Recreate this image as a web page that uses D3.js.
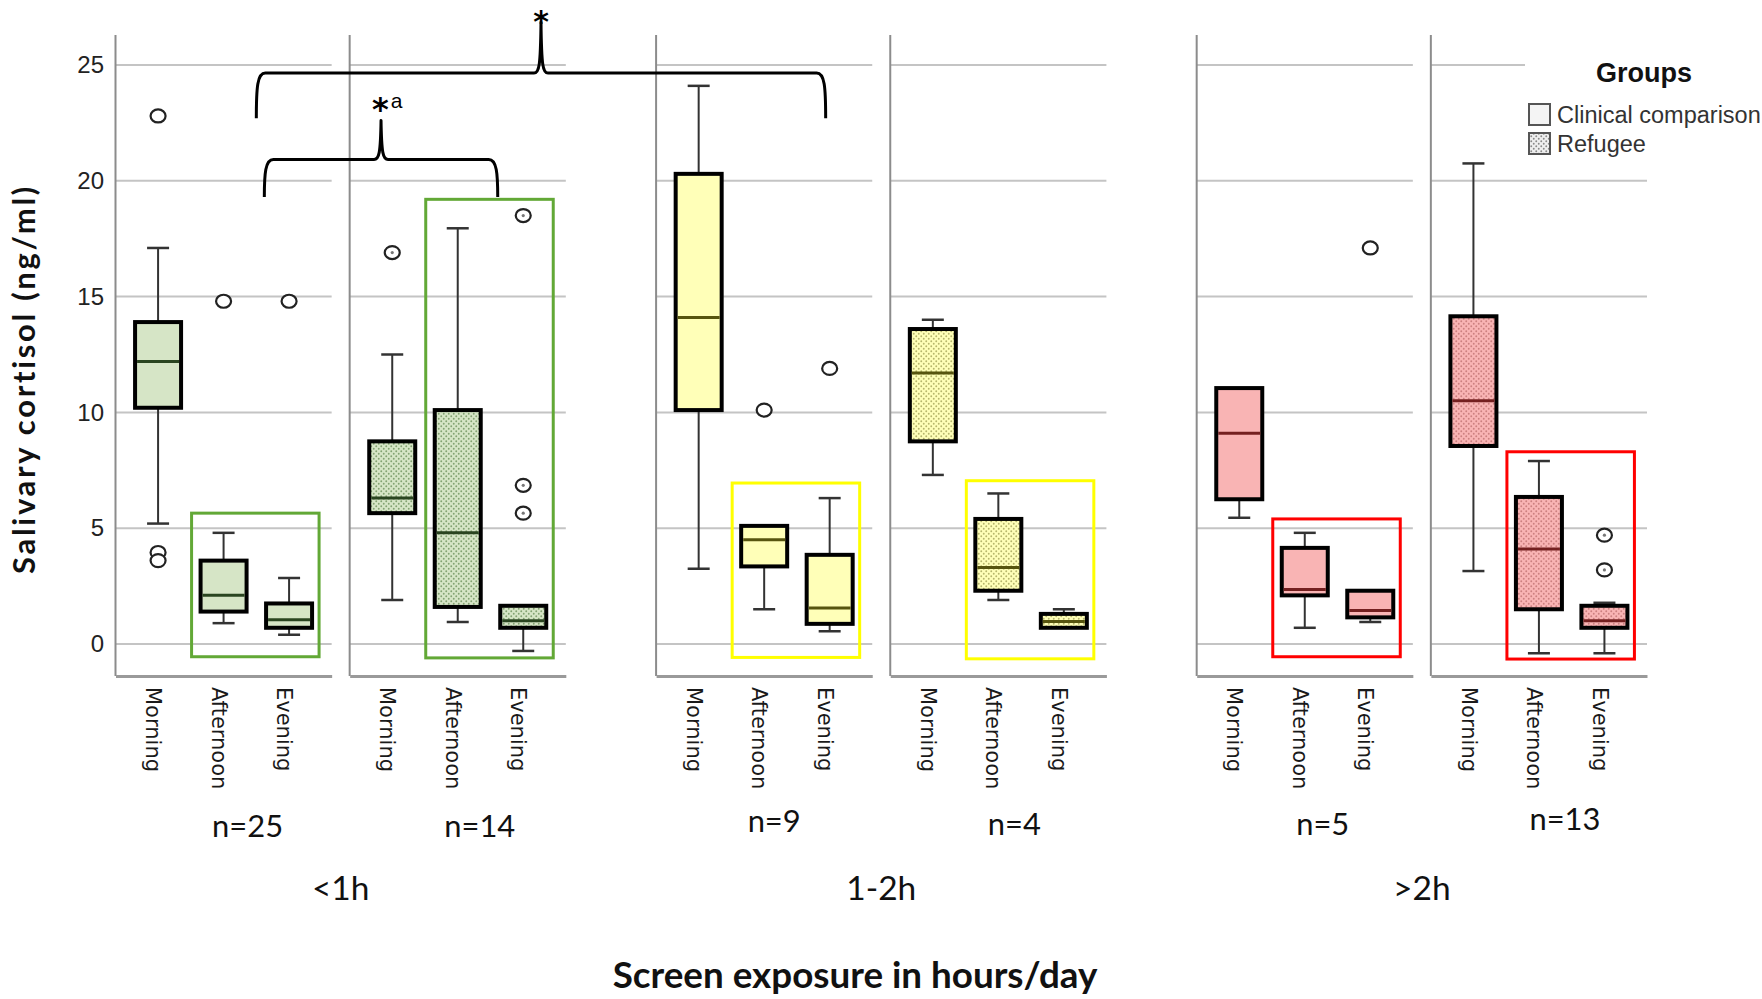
<!DOCTYPE html>
<html><head><meta charset="utf-8">
<script src="https://cdn.jsdelivr.net/npm/d3@7"></script>
<style>body{margin:0;background:#fff}</style></head>
<body><svg id="c" width="1762" height="999"></svg>
<script>
// ---------------- DATA ----------------
const exposures = ["<1h", "1-2h", ">2h"];
const groups = ["Clinical comparison", "Refugee"];
const times = ["Morning", "Afternoon", "Evening"];
const nLabels = ["n=25", "n=14", "n=9", "n=4", "n=5", "n=13"];
const yTicks = [0, 5, 10, 15, 20, 25];

// box stats per time of day: [lower whisker, Q1, median, Q3, upper whisker]
const boxLt1Clinical  = [[5.2, 10.2, 12.2, 13.9, 17.1], [0.9, 1.4, 2.1, 3.6, 4.8], [0.4, 0.7, 1.05, 1.75, 2.85]];
const boxLt1Refugee   = [[1.9, 5.65, 6.3, 8.75, 12.5], [0.95, 1.6, 4.8, 10.1, 17.95], [-0.3, 0.7, 1.0, 1.65, 1.65]];
const boxMidClinical  = [[3.25, 10.1, 14.1, 20.3, 24.1], [1.5, 3.35, 4.5, 5.1, 5.1], [0.55, 0.87, 1.55, 3.85, 6.3]];
const boxMidRefugee   = [[7.3, 8.75, 11.7, 13.6, 14.0], [1.9, 2.3, 3.3, 5.4, 6.5], [0.7, 0.7, 0.97, 1.3, 1.5]];
const boxGt2Clinical  = [[5.45, 6.25, 9.1, 11.05, 11.05], [0.7, 2.1, 2.35, 4.15, 4.8], [0.95, 1.15, 1.45, 2.3, 2.3]];
const boxGt2Refugee   = [[3.15, 8.55, 10.5, 14.15, 20.75], [-0.4, 1.5, 4.1, 6.35, 7.9], [-0.4, 0.7, 1.0, 1.65, 1.78]];

// outliers per time of day
const outLt1Clinical = [[22.8, 3.95, 3.6], [14.8], [14.8]];
const outLt1Refugee  = [[16.9], [], [18.5, 6.85, 5.65]];
const outMidClinical = [[], [10.1], [11.9]];
const outMidRefugee  = [[], [], []];
const outGt2Clinical = [[], [], [17.1]];
const outGt2Refugee  = [[], [], [4.7, 3.2]];

// highlight frames (Afternoon+Evening) per panel: top and bottom value
const frameTop = [5.65, 19.2, 6.95, 7.05, 5.4, 8.3];
const frameBottom = [-0.55, -0.6, -0.58, -0.64, -0.55, -0.65];

// significance brackets: [label, y of arms end, y of bar, y of tip]
const bracketLabels = ["*", "*a"];
const bracketLevels = [[22.7, 24.65, 26.85], [19.3, 20.92, 22.6]];

// ---------------- STYLE / LAYOUT ----------------
const fills   = ["#d6e5c6", "#ffffb8", "#f9b4b4"];
const dots    = ["#83a272", "#b6b66c", "#cc8080"];
const medians = ["#2a4520", "#57550f", "#742020"];
const frames  = ["#62a836", "#ffff00", "#ff0000"];
const nNudge  = [24, 22, 10, 16, 18, 26];
const nBase   = [837, 837, 832, 835, 835, 830];

const panels = [
  {e: 0, g: 0, box: boxLt1Clinical, out: outLt1Clinical},
  {e: 0, g: 1, box: boxLt1Refugee,  out: outLt1Refugee},
  {e: 1, g: 0, box: boxMidClinical, out: outMidClinical},
  {e: 1, g: 1, box: boxMidRefugee,  out: outMidRefugee},
  {e: 2, g: 0, box: boxGt2Clinical, out: outGt2Clinical},
  {e: 2, g: 1, box: boxGt2Refugee,  out: outGt2Refugee}
];

const svg = d3.select("#c");
const y = d3.scaleLinear().domain([0, 25]).range([644, 65]);
const xExp = d3.scaleBand().domain(exposures).range([115.5, 1647]).paddingInner(0.167);
const xGrp = d3.scaleBand().domain(groups).range([0, xExp.bandwidth()]).paddingInner(0.0769);
const xTime = d3.scalePoint().domain(times).range([0, xGrp.bandwidth()]).padding(0.65);
const pw = xGrp.bandwidth();
const axisY = 676;
const panelX = p => xExp(exposures[p.e]) + xGrp(groups[p.g]);
const cx = (p, t) => panelX(p) + xTime(t);

// patterns
const defs = svg.append("defs");
function pattern(id, base, dot) {
  const pt = defs.append("pattern").attr("id", id).attr("patternUnits", "userSpaceOnUse")
    .attr("width", 5).attr("height", 5);
  pt.append("rect").attr("width", 5).attr("height", 5).attr("fill", base);
  pt.append("circle").attr("cx", 1.25).attr("cy", 1.25).attr("r", 0.95).attr("fill", dot);
  pt.append("circle").attr("cx", 3.75).attr("cy", 3.75).attr("r", 0.95).attr("fill", dot);
}
fills.forEach((f, i) => pattern("dots" + i, f, dots[i]));
pattern("dotsLegend", "#efefef", "#8a8a8a");

// panels: gridlines, left line, bottom axis
panels.forEach((p, i) => {
  const g = svg.append("g").attr("transform", `translate(${panelX(p)},0)`);
  g.selectAll("line.grid").data(yTicks).join("line")
    .attr("x1", 0).attr("x2", pw).attr("y1", d => y(d)).attr("y2", d => y(d))
    .attr("stroke", "#c4c4c4").attr("stroke-width", 2);
  g.append("line").attr("x1", 0).attr("x2", 0).attr("y1", y(26.3)).attr("y2", axisY)
    .attr("stroke", "#8c8c8c").attr("stroke-width", 2);
  const ax = g.append("g").attr("transform", `translate(0,${axisY})`)
    .call(d3.axisBottom(xTime).tickSize(0).tickSizeOuter(0).tickPadding(0));
  ax.select(".domain").attr("stroke", "#9a9a9a").attr("stroke-width", 3);
  ax.selectAll("text").attr("x", 0).attr("y", 0).attr("dy", "0.35em")
    .attr("transform", "translate(-5,11) rotate(90)").style("text-anchor", "start")
    .attr("font-family", "DejaVu Sans").attr("font-size", 21).attr("fill", "#1a1a1a");
});

// y axis
const yAx = svg.append("g").attr("transform", `translate(${panelX(panels[0])},0)`)
  .call(d3.axisLeft(y).tickValues(yTicks).tickSize(0).tickPadding(11.5));
yAx.select(".domain").remove();
yAx.selectAll("text").attr("font-family", "Liberation Sans").attr("font-size", 24).attr("fill", "#222");

// highlight frames
panels.forEach((p, i) => {
  const x0 = cx(p, "Afternoon") - 32, x1 = cx(p, "Evening") + 30;
  svg.append("rect").attr("x", x0).attr("y", y(frameTop[i]))
    .attr("width", x1 - x0).attr("height", y(frameBottom[i]) - y(frameTop[i]))
    .attr("fill", "none").attr("stroke", frames[p.e]).attr("stroke-width", 3);
});

// boxes
const bw = 46, cap = 22;
panels.forEach((p, i) => {
  times.forEach((t, k) => {
    const [lo, q1, md, q3, hi] = p.box[k];
    const c = cx(p, t);
    const g = svg.append("g");
    g.append("line").attr("x1", c).attr("x2", c).attr("y1", y(hi)).attr("y2", y(lo))
      .attr("stroke", "#333").attr("stroke-width", 2);
    if (hi > q3) g.append("line").attr("x1", c - cap / 2).attr("x2", c + cap / 2).attr("y1", y(hi)).attr("y2", y(hi))
      .attr("stroke", "#333").attr("stroke-width", 2.5);
    if (lo < q1) g.append("line").attr("x1", c - cap / 2).attr("x2", c + cap / 2).attr("y1", y(lo)).attr("y2", y(lo))
      .attr("stroke", "#333").attr("stroke-width", 2.5);
    g.append("rect").attr("x", c - bw / 2).attr("y", y(q3)).attr("width", bw).attr("height", y(q1) - y(q3))
      .attr("fill", p.g === 1 ? `url(#dots${p.e})` : fills[p.e]).attr("stroke", "#000").attr("stroke-width", 4);
    g.append("line").attr("x1", c - bw / 2 + 2).attr("x2", c + bw / 2 - 2).attr("y1", y(md)).attr("y2", y(md))
      .attr("stroke", medians[p.e]).attr("stroke-width", 3);
    p.out[k].forEach(v => {
      g.append("ellipse").attr("cx", c).attr("cy", y(v)).attr("rx", 7.5).attr("ry", 6.5)
        .attr("fill", "#fff").attr("stroke", "#222").attr("stroke-width", 2.2);
      if (p.g === 1) g.append("circle").attr("cx", c).attr("cy", y(v)).attr("r", 1.6).attr("fill", "#777");
    });
  });
});

// n labels, group labels
function fit(sel, target) {
  const w = sel.node().getComputedTextLength();
  return parseFloat(sel.attr("font-size")) * target / w;
}
const nT = svg.selectAll("text.n").data(panels).join("text").attr("class", "n")
  .attr("x", (p, i) => panelX(p) + pw / 2 + nNudge[i]).attr("y", (p, i) => nBase[i])
  .attr("text-anchor", "middle").attr("font-family", "Lato").attr("font-size", 29).attr("fill", "#111")
  .text((p, i) => nLabels[i]);
const nFs = fit(nT.filter((p, i) => i === 0), 71);
nT.attr("font-size", nFs);

const gT = svg.selectAll("text.grp").data(exposures).join("text").attr("class", "grp")
  .attr("x", d => xExp(d) + xExp.bandwidth() / 2).attr("y", 900)
  .attr("text-anchor", "middle").attr("font-family", "Lato").attr("font-size", 34).attr("fill", "#111")
  .text(d => d);
gT.attr("font-size", fit(gT.filter(d => d === "1-2h"), 70));

// axis titles
const xt = svg.append("text").attr("x", 855).attr("y", 988).attr("text-anchor", "middle")
  .attr("font-family", "Lato").attr("font-weight", "bold").attr("font-size", 32).attr("fill", "#111")
  .text("Screen exposure in hours/day");
xt.attr("font-size", fit(xt, 485));
svg.append("text").attr("transform", "translate(35,379) rotate(-90)")
  .attr("text-anchor", "middle")
  .attr("font-family", "Lato").attr("font-weight", "bold").attr("font-size", 31)
  .attr("letter-spacing", 2.7).attr("fill", "#111")
  .text("Salivary cortisol (ng/ml)");

// brackets
const p1 = panels[0], p2 = panels[1], p3 = panels[2];
const bracketEnds = [
  [(cx(p1, "Afternoon") + cx(p1, "Evening")) / 2, cx(p3, "Evening") - 4],
  [(cx(p1, "Afternoon") + cx(p1, "Evening")) / 2 + 8, cx(p2, "Afternoon") + 40]
];
function brace(x0, x1, yb, yh, yt) {
  const xm = (x0 + x1) / 2;
  return `M${x0},${yb} C${x0},${yh + 14} ${x0 + 1},${yh} ${x0 + 9},${yh} L${xm - 7},${yh} ` +
    `C${xm - 2},${yh} ${xm - 0.5},${yh - 6} ${xm},${yt} C${xm + 0.5},${yh - 6} ${xm + 2},${yh} ${xm + 7},${yh} ` +
    `L${x1 - 9},${yh} C${x1 - 1},${yh} ${x1},${yh + 14} ${x1},${yb}`;
}
bracketLevels.forEach((lv, i) => {
  const [x0, x1] = bracketEnds[i];
  svg.append("path").attr("d", brace(x0, x1, y(lv[0]), y(lv[1]), y(lv[2])))
    .attr("fill", "none").attr("stroke", "#000").attr("stroke-width", 3).attr("stroke-linejoin", "round");
});
const xm0 = (bracketEnds[0][0] + bracketEnds[0][1]) / 2;
const xm1 = (bracketEnds[1][0] + bracketEnds[1][1]) / 2;
svg.append("text").attr("x", xm0).attr("y", 32).attr("text-anchor", "middle")
  .attr("font-family", "DejaVu Sans").attr("font-weight", "bold").attr("font-size", 30).attr("fill", "#000").text(bracketLabels[0]);
svg.append("text").attr("x", xm1 - 9).attr("y", 120)
  .attr("font-family", "DejaVu Sans").attr("font-weight", "bold").attr("font-size", 32).attr("fill", "#000")
  .text(bracketLabels[1][0])
  .append("tspan").attr("font-family", "Liberation Sans").attr("font-weight", "normal").attr("font-size", 21).attr("dx", 2).attr("dy", -12)
  .text(bracketLabels[1][1]);

// legend
const lg = svg.append("g");
lg.append("rect").attr("x", 1525).attr("y", 48).attr("width", 237).attr("height", 112).attr("fill", "#fff");
lg.append("text").attr("x", 1644).attr("y", 82).attr("text-anchor", "middle")
  .attr("font-family", "Liberation Sans").attr("font-weight", "bold").attr("font-size", 27).attr("fill", "#111")
  .text("Groups");
groups.forEach((gname, i) => {
  const yy = 104 + i * 29;
  lg.append("rect").attr("x", 1529).attr("y", yy).attr("width", 21).attr("height", 21)
    .attr("fill", i === 0 ? "#f4f4f4" : "url(#dotsLegend)").attr("stroke", "#555").attr("stroke-width", 2);
  lg.append("text").attr("x", 1557).attr("y", yy + 19)
    .attr("font-family", "Liberation Sans").attr("font-size", 23.5).attr("fill", "#333").text(gname);
});
</script>
</body></html>
